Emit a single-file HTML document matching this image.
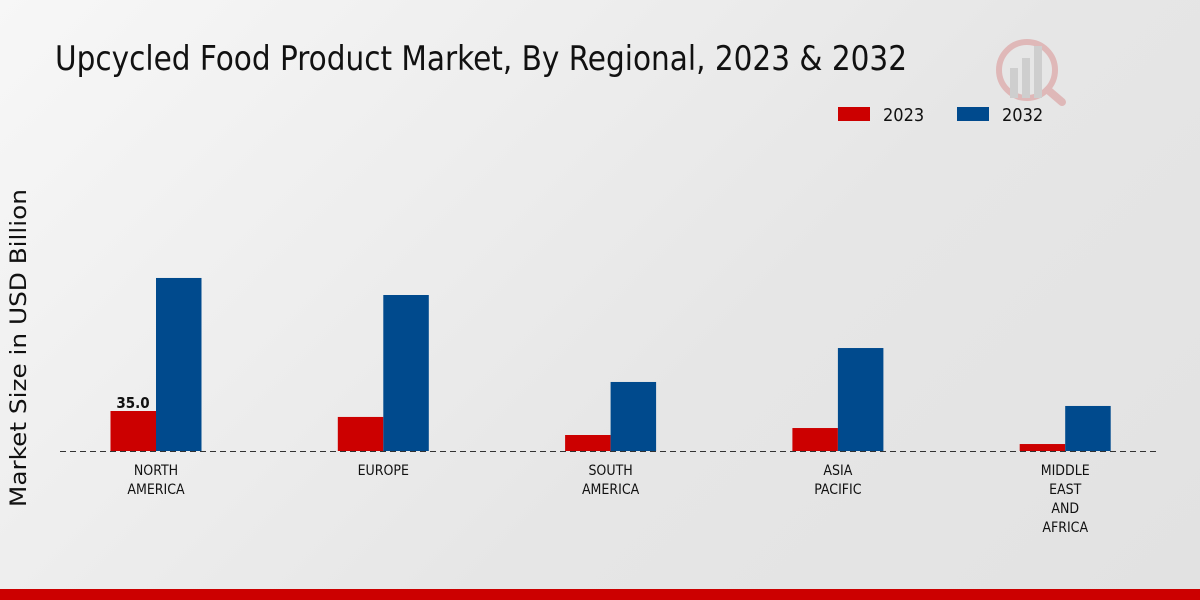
<!DOCTYPE html>
<html><head><meta charset="utf-8"><style>
body{margin:0;width:1200px;height:600px;overflow:hidden;font-family:"DejaVu Sans Condensed","Liberation Sans",sans-serif;background:linear-gradient(135deg,#f7f7f7 0%,#e6e6e6 60%,#e2e2e2 100%);}
</style></head><body>
<svg id="c" width="1200" height="600" style="position:absolute;left:0;top:0">
<text x="55" y="70" font-size="34" fill="#111" font-family="DejaVu Sans Condensed, Liberation Sans, sans-serif" textLength="852" lengthAdjust="spacingAndGlyphs">Upcycled Food Product Market, By Regional, 2023 &amp; 2032</text>
<text transform="translate(26,348) rotate(-90)" text-anchor="middle" font-size="22" fill="#111" font-family="DejaVu Sans, sans-serif" textLength="318" lengthAdjust="spacingAndGlyphs">Market Size in USD Billion</text>
<g>
<rect x="838" y="107" width="32" height="14" fill="#cc0000"/>
<text x="883" y="121" font-size="18" fill="#111">2023</text>
<rect x="957" y="107" width="32" height="14" fill="#004a8d"/>
<text x="1002" y="121" font-size="18" fill="#111">2032</text>
</g>
<g opacity="0.25">
<circle cx="1027" cy="70" r="28" fill="none" stroke="#c33" stroke-width="6"/>
<rect x="1010" y="68" width="8" height="30" fill="#888"/><rect x="1022" y="58" width="8" height="40" fill="#888"/><rect x="1034" y="46" width="8" height="52" fill="#888"/>
<line x1="1048" y1="90" x2="1062" y2="102" stroke="#c33" stroke-width="8" stroke-linecap="round"/>
</g>
<line x1="60" y1="451.5" x2="1160" y2="451.5" stroke="#333" stroke-dasharray="6,4"/>
<g id="bars"></g>
<rect x="0" y="589" width="1200" height="11" fill="#cc0000"/>
</svg>
<script>
const categories=[["NORTH","AMERICA"],["EUROPE"],["SOUTH","AMERICA"],["ASIA","PACIFIC"],["MIDDLE","EAST","AND","AFRICA"]];
const values2023=[35.0,29.8,14.0,20.1,6.1];
const values2032=[151.4,136.5,60.4,90.1,39.4];
const labels2023=["35.0",null,null,null,null];
const ns="http://www.w3.org/2000/svg";
const g=document.getElementById("bars");
const base=451, k=40/35;
const xc=i=>156+i*227.3;
const y=v=>base-v*k;
function mk(t,a){const e=document.createElementNS(ns,t);for(const n in a)e.setAttribute(n,a[n]);g.appendChild(e);return e;}
categories.forEach((c,i)=>{
 const r=mk("rect",{x:xc(i)-45.5,y:y(values2023[i]),width:45.5,height:base-y(values2023[i]),fill:"#cc0000"});
 
 
 const b=mk("rect",{x:xc(i),y:y(values2032[i]),width:45.5,height:base-y(values2032[i]),fill:"#004a8d"});
 
 
 if(labels2023[i]){const t=mk("text",{x:xc(i)-23,y:y(values2023[i])-3,"text-anchor":"middle","font-size":"15","font-weight":"bold",fill:"#111"});t.textContent=labels2023[i];
 
 }
 c.forEach((line,j)=>{const t=mk("text",{x:xc(i),y:475+j*19,"text-anchor":"middle","font-size":"14",fill:"#111"});t.textContent=line;
 
 });
});
</script>
</body></html>
